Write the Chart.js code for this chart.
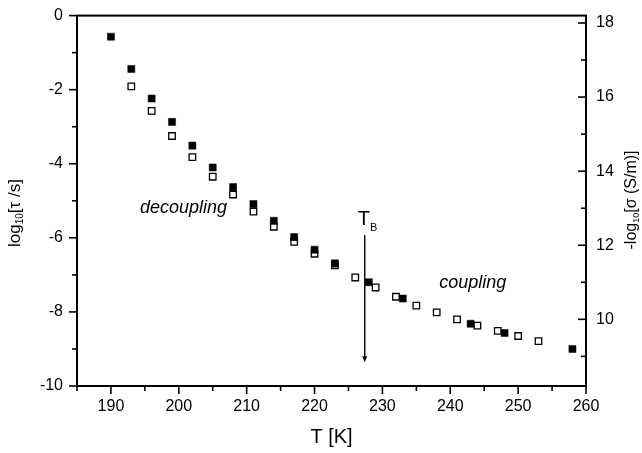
<!DOCTYPE html>
<html>
<head>
<meta charset="utf-8">
<script src="https://cdn.jsdelivr.net/npm/chart.js@4/dist/chart.umd.min.js"></script>
<style>
html,body{margin:0;padding:0;background:#fff;}
#wrap{width:642px;height:453px;}
</style>
</head>
<body>
<div id="wrap"><canvas id="c" width="642" height="453"></canvas></div>
<script>
// ---- data ----
const tempFilled = [190,193,196,199,202,205,208,211,214,217,220,223,228,233,243,248,258];
const logTau = [-0.57,-1.44,-2.24,-2.87,-3.51,-4.10,-4.63,-5.09,-5.54,-5.98,-6.32,-6.69,-7.20,-7.64,-8.32,-8.57,-9.00];
const tempOpen = [193,196,199,202,205,208,211,214,217,220,223,226,229,232,235,238,241,244,247,250,253];
const negLogSigma = [16.29,15.63,14.95,14.38,13.85,13.37,12.91,12.50,12.09,11.77,11.46,11.13,10.86,10.61,10.37,10.19,10.00,9.83,9.69,9.55,9.41];
const xTicks = [190,200,210,220,230,240,250,260];
const xMinorTicks = [185,195,205,215,225,235,245,255];
const yTicks = [0,-2,-4,-6,-8,-10];
const yMinorTicks = [-1,-3,-5,-7,-9];
const y2Ticks = [10,12,14,16,18];
const y2MinorTicks = [9,11,13,15,17];
const tB = 227.4;

const FONT = '"Liberation Sans", Arial, Helvetica, sans-serif';

function line(ctx,x1,y1,x2,y2){ctx.beginPath();ctx.moveTo(x1,y1);ctx.lineTo(x2,y2);ctx.stroke();}

function drawRich(ctx, parts){
  // parts: [{t, size, dy, style}]
  let total = 0;
  parts.forEach(p=>{ctx.font=(p.style||'')+' '+p.size+'px '+FONT; p.w=ctx.measureText(p.t).width; total+=p.w;});
  let x = -total/2;
  parts.forEach(p=>{ctx.font=(p.style||'')+' '+p.size+'px '+FONT; ctx.fillText(p.t,x,p.dy||0); x+=p.w;});
}

const decor = {
  id:'decor',
  afterDatasetsDraw(chart){
    const ctx = chart.ctx, a = chart.chartArea;
    const xs = chart.scales.x, ys = chart.scales.y, y2s = chart.scales.y2;
    ctx.save();
    ctx.strokeStyle='#000'; ctx.fillStyle='#000';
    // frame
    ctx.lineWidth=2;
    ctx.strokeRect(a.left, a.top, a.right-a.left, a.bottom-a.top);
    // ticks
    ctx.lineWidth=1.6;
    xTicks.forEach(v=>{const p=xs.getPixelForValue(v); line(ctx,p,a.bottom,p,a.bottom+8);});
    xMinorTicks.forEach(v=>{const p=xs.getPixelForValue(v); line(ctx,p,a.bottom,p,a.bottom+5);});
    yTicks.forEach(v=>{const p=ys.getPixelForValue(v); line(ctx,a.left-8,p,a.left,p);});
    yMinorTicks.forEach(v=>{const p=ys.getPixelForValue(v); line(ctx,a.left-5,p,a.left,p);});
    y2Ticks.forEach(v=>{const p=y2s.getPixelForValue(v); line(ctx,a.right-8,p,a.right,p);});
    y2MinorTicks.forEach(v=>{const p=y2s.getPixelForValue(v); line(ctx,a.right-5,p,a.right,p);});
    // arrow at T_B
    const ax = xs.getPixelForValue(tB);
    const ay1 = ys.getPixelForValue(-5.92), ay2 = ys.getPixelForValue(-9.36);
    ctx.lineWidth=1.4;
    line(ctx,ax,ay1,ax,ay2-5);
    ctx.beginPath(); ctx.moveTo(ax-2.5,ay2-6); ctx.lineTo(ax+2.5,ay2-6); ctx.lineTo(ax,ay2); ctx.closePath(); ctx.fill();
    // T_B label
    ctx.textAlign='left'; ctx.textBaseline='alphabetic';
    const tx = xs.getPixelForValue(226.36), ty = ys.getPixelForValue(-5.64);
    ctx.font='20px '+FONT; ctx.fillText('T',tx,ty);
    const tw = ctx.measureText('T').width;
    ctx.font='11px '+FONT; ctx.fillText('B',tx+tw,ty+6);
    // annotations
    ctx.font='italic 18px '+FONT;
    ctx.fillText('decoupling', xs.getPixelForValue(194.28), ys.getPixelForValue(-5.32));
    ctx.fillText('coupling', xs.getPixelForValue(238.38), ys.getPixelForValue(-7.36));
    // y titles
    ctx.textBaseline='middle';
    ctx.save();
    ctx.translate(15, 213); ctx.rotate(-Math.PI/2);
    drawRich(ctx,[{t:'log',size:17},{t:'10',size:10,dy:5},{t:'[τ /s]',size:17}]);
    ctx.restore();
    ctx.save();
    ctx.translate(632, 200); ctx.rotate(-Math.PI/2);
    drawRich(ctx,[{t:'-log',size:16},{t:'10',size:9,dy:5},{t:'[σ (S/m)]',size:16}]);
    ctx.restore();
    ctx.restore();
  }
};

const gridOpts = {display:true, drawOnChartArea:false, drawTicks:true, tickLength:8, color:'rgba(0,0,0,0)'};

new Chart(document.getElementById('c'), {
  type:'scatter',
  data:{
    datasets:[
      {label:'log10 tau', data: tempFilled.map((t,i)=>({x:t,y:logTau[i]})), yAxisID:'y',
       pointStyle:'rect', pointRadius:5, pointBackgroundColor:'#000', pointBorderColor:'#000', pointBorderWidth:0.5, showLine:false},
      {label:'-log10 sigma', data: tempOpen.map((t,i)=>({x:t,y:negLogSigma[i]})), yAxisID:'y2',
       pointStyle:'rect', pointRadius:4.6, pointBackgroundColor:'#fff', pointBorderColor:'#000', pointBorderWidth:1.3, showLine:false}
    ]
  },
  options:{
    responsive:false, animation:false, devicePixelRatio:1,
    layout:{padding:{top:12,left:0,right:0,bottom:0}, autoPadding:false},
    plugins:{legend:{display:false}, tooltip:{enabled:false}},
    scales:{
      x:{type:'linear', min:185, max:260, position:'bottom',
         afterBuildTicks:s=>{s.ticks = xTicks.map(v=>({value:v}));},
         afterFit:s=>{s.height=67;},
         grid:gridOpts, border:{display:false},
         ticks:{color:'#000', font:{family:FONT,size:16}, padding:3, maxRotation:0, autoSkip:false},
         title:{display:true, text:'T [K]', color:'#000', font:{family:FONT,size:20}, padding:{top:4,bottom:4}}},
      y:{type:'linear', min:-10, max:0, position:'left',
         afterBuildTicks:s=>{s.ticks = yTicks.map(v=>({value:v}));},
         afterFit:s=>{s.width=77;},
         grid:gridOpts, border:{display:false},
         ticks:{color:'#000', font:{family:FONT,size:16}, padding:6, autoSkip:false}},
      y2:{type:'linear', min:8.2, max:18.2, position:'right',
         afterBuildTicks:s=>{s.ticks = y2Ticks.map(v=>({value:v}));},
         afterFit:s=>{s.width=56;},
         grid:gridOpts, border:{display:false},
         ticks:{color:'#000', font:{family:FONT,size:16}, padding:2, autoSkip:false}}
    }
  },
  plugins:[decor]
});
</script>
</body>
</html>
